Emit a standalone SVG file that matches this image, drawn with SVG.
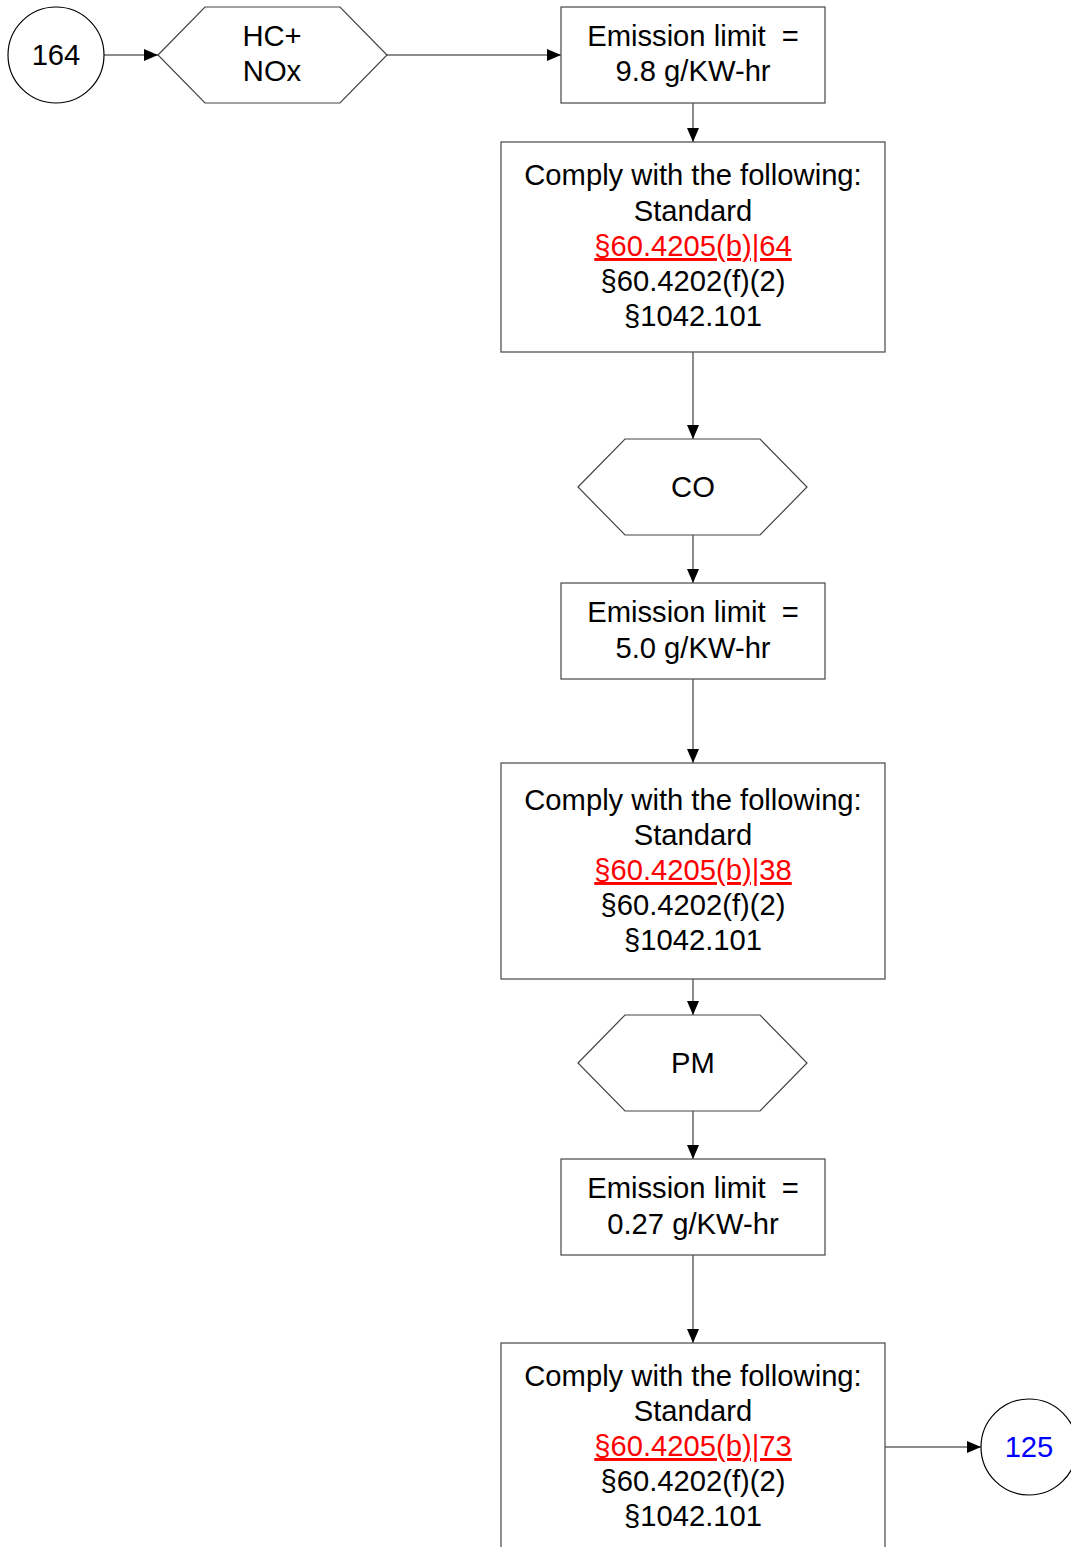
<svg xmlns="http://www.w3.org/2000/svg" width="1071" height="1547" viewBox="0 0 1071 1547">
<defs>
<marker id="ah" markerWidth="14" markerHeight="12" refX="14" refY="6" orient="auto" markerUnits="userSpaceOnUse">
<path d="M0,0 L14,6 L0,12 Z" fill="#000"/>
</marker>
<style>
text{font-family:"Liberation Sans",Arial,sans-serif;font-size:29.2px;fill:#000;text-anchor:middle;white-space:pre}
.box{fill:#fff;stroke:#555;stroke-width:1.3}
.hex{fill:#fff;stroke:#444;stroke-width:1.2}
.circ{fill:#fff;stroke:#000;stroke-width:1.2}
.con{fill:none;stroke:#666;stroke-width:1.5;marker-end:url(#ah)}
.red{fill:#f00;text-decoration:underline}
.blue{fill:#00f}
</style>
</defs>
<rect width="1071" height="1547" fill="#fff"/>
<g id="connectors">
<line class="con" x1="104" y1="55" x2="158" y2="55"/>
<line class="con" x1="387" y1="55" x2="561" y2="55"/>
<line class="con" x1="693" y1="103" x2="693" y2="142"/>
<line class="con" x1="693" y1="352" x2="693" y2="439"/>
<line class="con" x1="693" y1="535" x2="693" y2="583"/>
<line class="con" x1="693" y1="679" x2="693" y2="763"/>
<line class="con" x1="693" y1="979" x2="693" y2="1015"/>
<line class="con" x1="693" y1="1111" x2="693" y2="1159"/>
<line class="con" x1="693" y1="1255" x2="693" y2="1343"/>
<line class="con" x1="885" y1="1447" x2="981" y2="1447"/>
</g>
<g id="n164">
<circle class="circ" cx="56" cy="55" r="48"/>
<text x="56" y="65">164</text>
</g>
<g id="hcnox">
<polygon class="hex" points="158,55 205,7 340,7 387,55 340,103 205,103"/>
<text x="272" y="46">HC+</text>
<text x="272" y="81">NOx</text>
</g>
<g id="lim1">
<rect class="box" x="561" y="7" width="264" height="96"/>
<text x="693" y="46">Emission limit  =</text>
<text x="693" y="81">9.8 g/KW-hr</text>
</g>
<g id="std1">
<rect class="box" x="501" y="142" width="384" height="210"/>
<text x="693" y="185">Comply with the following:</text>
<text x="693" y="221">Standard</text>
<text x="693" y="256" class="red">§60.4205(b)|64</text>
<text x="693" y="291">§60.4202(f)(2)</text>
<text x="693" y="326">§1042.101</text>
</g>
<g id="co">
<polygon class="hex" points="578,487 625,439 760,439 807,487 760,535 625,535"/>
<text x="693" y="497">CO</text>
</g>
<g id="lim2">
<rect class="box" x="561" y="583" width="264" height="96"/>
<text x="693" y="622">Emission limit  =</text>
<text x="693" y="658">5.0 g/KW-hr</text>
</g>
<g id="std2">
<rect class="box" x="501" y="763" width="384" height="216"/>
<text x="693" y="810">Comply with the following:</text>
<text x="693" y="845">Standard</text>
<text x="693" y="880" class="red">§60.4205(b)|38</text>
<text x="693" y="915">§60.4202(f)(2)</text>
<text x="693" y="950">§1042.101</text>
</g>
<g id="pm">
<polygon class="hex" points="578,1063 625,1015 760,1015 807,1063 760,1111 625,1111"/>
<text x="693" y="1073">PM</text>
</g>
<g id="lim3">
<rect class="box" x="561" y="1159" width="264" height="96"/>
<text x="693" y="1198">Emission limit  =</text>
<text x="693" y="1234">0.27 g/KW-hr</text>
</g>
<g id="std3">
<rect class="box" x="501" y="1343" width="384" height="230"/>
<text x="693" y="1386">Comply with the following:</text>
<text x="693" y="1421">Standard</text>
<text x="693" y="1456" class="red">§60.4205(b)|73</text>
<text x="693" y="1491">§60.4202(f)(2)</text>
<text x="693" y="1526">§1042.101</text>
</g>
<g id="n125">
<circle class="circ" cx="1029" cy="1447" r="48"/>
<text x="1029" y="1457" class="blue">125</text>
</g>
</svg>
